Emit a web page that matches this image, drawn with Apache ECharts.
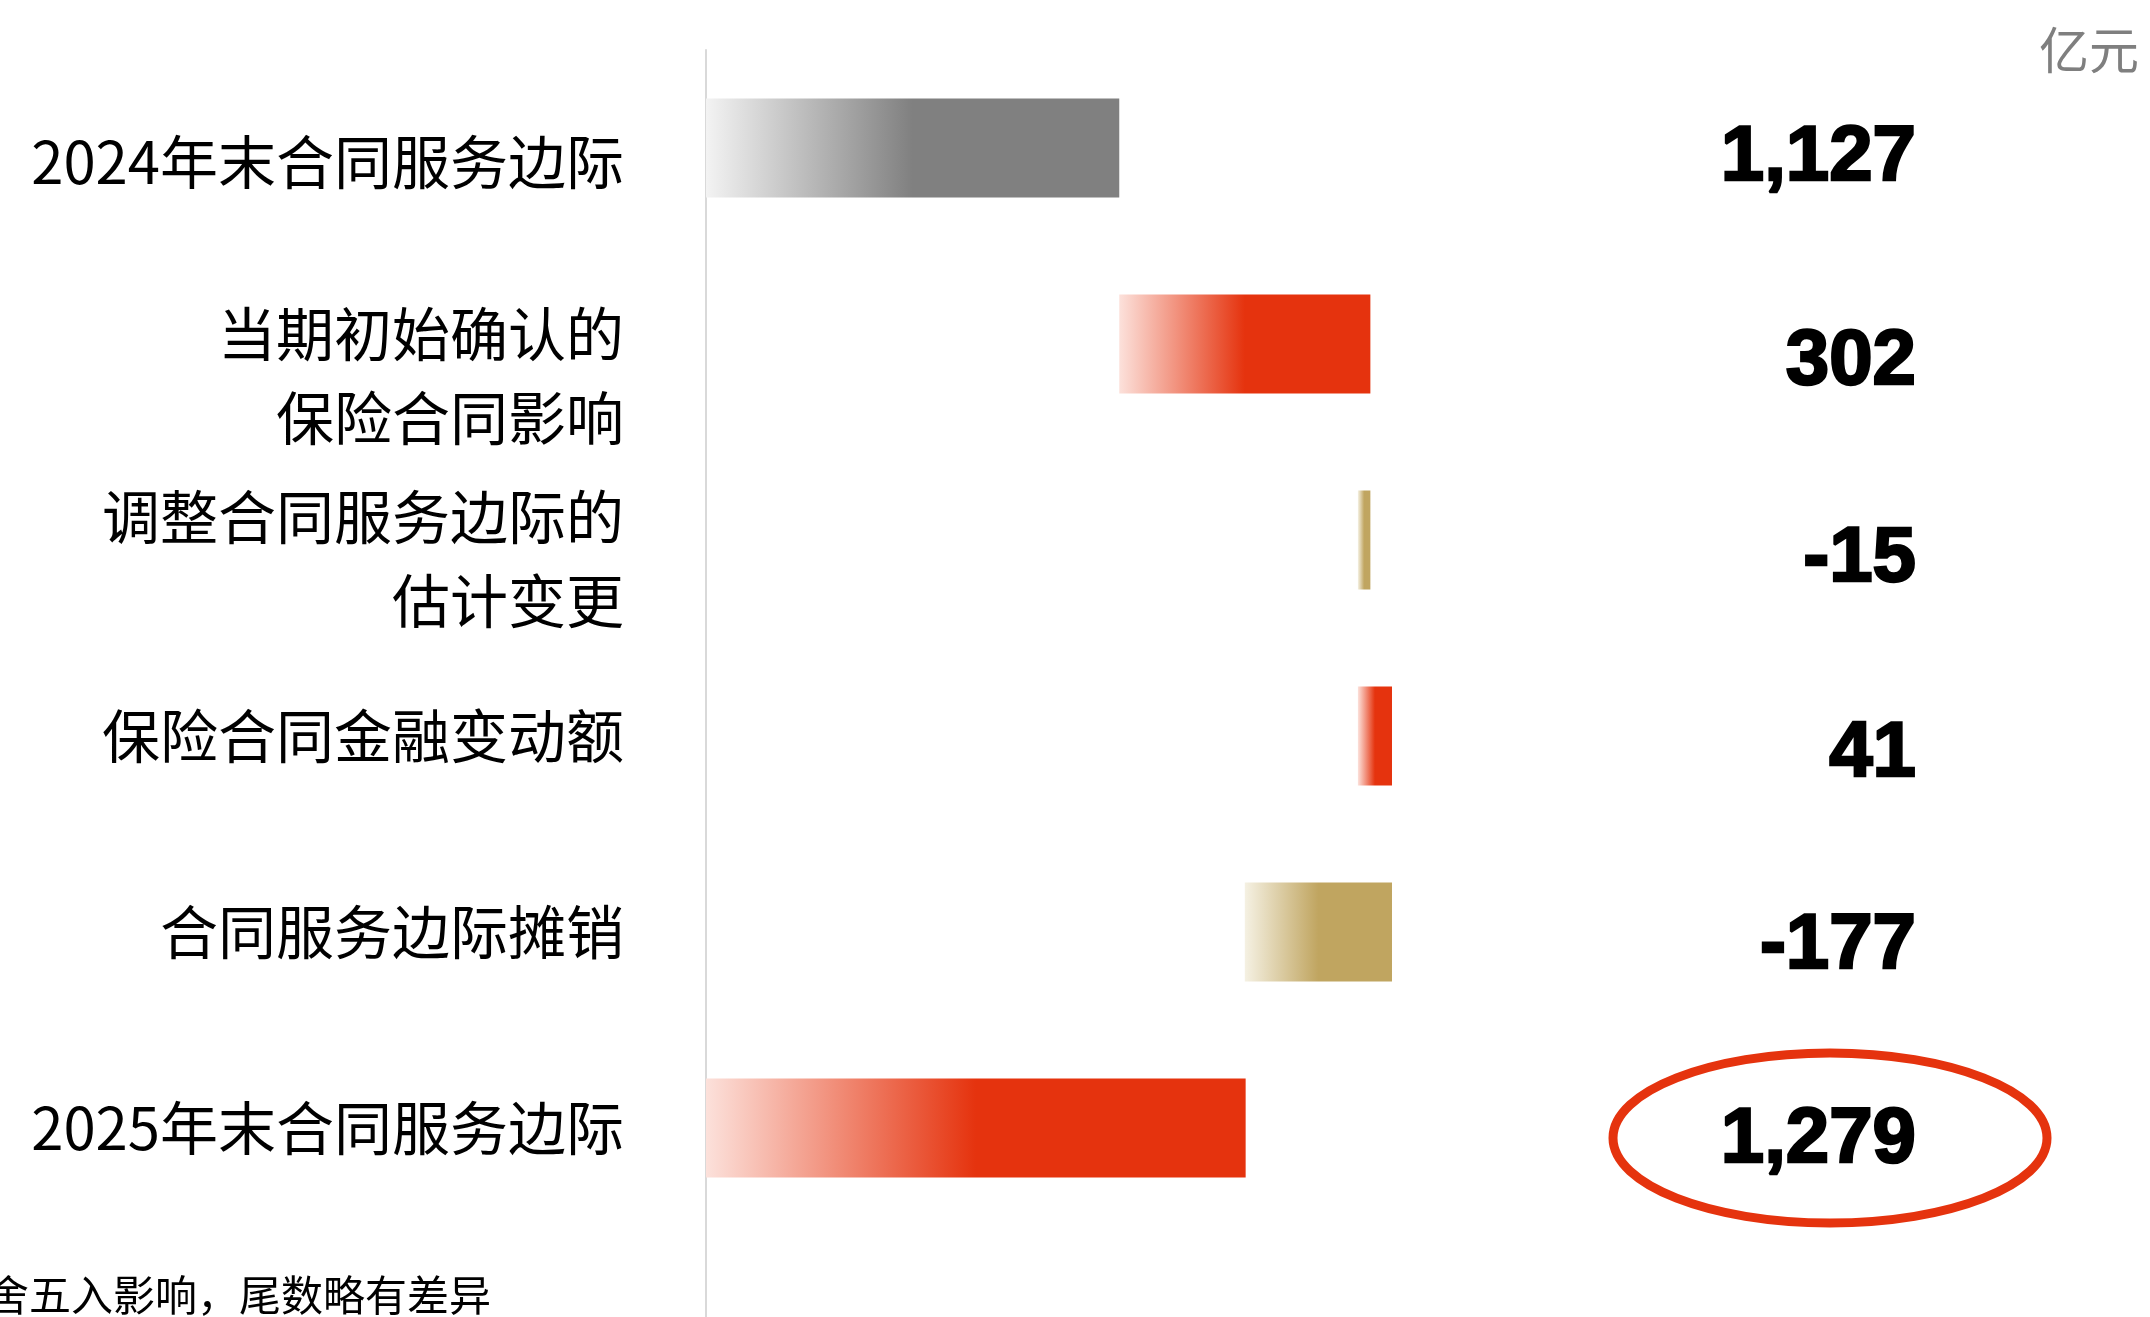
<!DOCTYPE html>
<html>
<head>
<meta charset="utf-8">
<title>合同服务边际变动</title>
<script src="https://cdn.jsdelivr.net/npm/echarts@6/dist/echarts.min.js"></script>
<style>
  html, body { margin: 0; padding: 0; background: #fff; }
  #main { width: 2150px; height: 1317px; }
</style>
</head>
<body>
<div id="main"></div>
<script>
// 类别（自上而下）
const categories = [
  '2024年末合同服务边际',
  '当期初始确认的\n保险合同影响',
  '调整合同服务边际的\n估计变更',
  '保险合同金融变动额',
  '合同服务边际摊销',
  '2025年末合同服务边际'
];
// 数值（亿元）
const values = [1127, 302, -15, 41, -177, 1279];
// 期初/期末为合计，中间为变动
const kinds = ['total', 'delta', 'delta', 'delta', 'delta', 'total'];
const unitText = '亿元';
const noteText = '注：由于四舍五入影响，尾数略有差异';

const FONT_CJK = '"Noto Sans CJK SC", "Noto Sans", sans-serif';
const FONT_NUM = '"Liberation Sans", Arial, sans-serif';

// 文字下移量（像素×2，用空行撑开）
const leftShift = [28, 64, 38, 0, 0, 0];
const rightShift = [20, 36, 38, 36, 28, 24];

// 渐变色：左浅右深
function grad(light, dark) {
  return {
    type: 'linear', x: 0, y: 0, x2: 1, y2: 0,
    colorStops: [
      { offset: 0, color: light },
      { offset: 0.5, color: dark },
      { offset: 1, color: dark }
    ]
  };
}
const GRAY = grad('#f3f3f3', '#808080');
const RED = grad('#fce1db', '#e5330e');
const GOLD = grad('#f5f1e3', '#c0a560');

// 瀑布图：计算透明底座和可见长度
const baseData = [];
const barData = [];
let running = 0;
values.forEach((v, i) => {
  let color;
  if (kinds[i] === 'total') {
    baseData.push(0);
    barData.push(v);
    running = v;
    color = i === 0 ? GRAY : RED;
  } else if (v >= 0) {
    baseData.push(running);
    barData.push(v);
    running += v;
    color = RED;
  } else {
    baseData.push(running + v);
    barData.push(-v);
    running += v;
    color = GOLD;
  }
  barData[i] = { value: barData[i], itemStyle: { color: color } };
});

const valueLabels = values.map(v => v.toLocaleString('en-US'));

function spacer(h) {
  return h > 0 ? '{s' + h + '| }\n' : '';
}
const spacerRich = {};
leftShift.concat(rightShift).forEach(h => {
  spacerRich['s' + h] = { fontSize: 1, lineHeight: h };
});

const chart = echarts.init(document.getElementById('main'), null, { renderer: 'canvas' });

const option = {
  animation: false,
  backgroundColor: '#fff',
  title: {
    text: unitText,
    right: 6,
    top: 20,
    textStyle: { fontFamily: FONT_CJK, fontSize: 50, fontWeight: 'normal', color: '#7f7f7f' }
  },
  grid: { left: 706, right: 230, top: 50, height: 1176 },
  xAxis: {
    type: 'value',
    min: 630,
    max: 2090,
    show: false
  },
  yAxis: [{
    type: 'category',
    inverse: true,
    data: categories,
    axisLine: { show: true, lineStyle: { color: '#d9d9d9', width: 2 } },
    axisTick: { show: false },
    axisLabel: {
      margin: 82,
      fontFamily: FONT_CJK,
      fontSize: 58,
      lineHeight: 84,
      color: '#000',
      formatter: (v, i) => spacer(leftShift[i]) + v,
      rich: spacerRich
    }
  }, {
    type: 'category',
    inverse: true,
    position: 'right',
    data: valueLabels,
    axisLine: { show: false },
    axisTick: { show: false },
    axisLabel: {
      inside: true,
      margin: 4,
      fontFamily: FONT_NUM,
      fontSize: 78,
      lineHeight: 80,
      fontWeight: 'bold',
      color: '#000',
      textBorderColor: '#000',
      textBorderWidth: 2.5,
      formatter: (v, i) => spacer(rightShift[i]) + v,
      rich: spacerRich
    }
  }],
  series: [{
    name: 'base',
    type: 'bar',
    stack: 'cf',
    barWidth: 99,
    silent: true,
    itemStyle: { color: 'transparent' },
    data: baseData
  }, {
    name: '合同服务边际',
    type: 'bar',
    stack: 'cf',
    barWidth: 99,
    data: barData
  }]
};

chart.setOption(option);

// 纵轴线延伸到底部，圈出期末数值，底部注释
const axisX = chart.convertToPixel({ xAxisIndex: 0 }, 630);
const lastY = chart.convertToPixel({ yAxisIndex: 0 }, categories[categories.length - 1]);
chart.setOption({
  graphic: [{
    type: 'line',
    shape: { x1: axisX, y1: 1226, x2: axisX, y2: 1317 },
    style: { stroke: '#d9d9d9', lineWidth: 2 }
  }, {
    type: 'ellipse',
    shape: { cx: 1830, cy: lastY + 10, rx: 217, ry: 85 },
    style: { fill: null, stroke: '#e5330e', lineWidth: 9 }
  }, {
    type: 'text',
    x: 491,
    y: 1295,
    style: {
      text: noteText,
      align: 'right',
      verticalAlign: 'middle',
      fontFamily: FONT_CJK,
      fontSize: 42,
      fill: '#000'
    }
  }]
});
</script>
</body>
</html>
